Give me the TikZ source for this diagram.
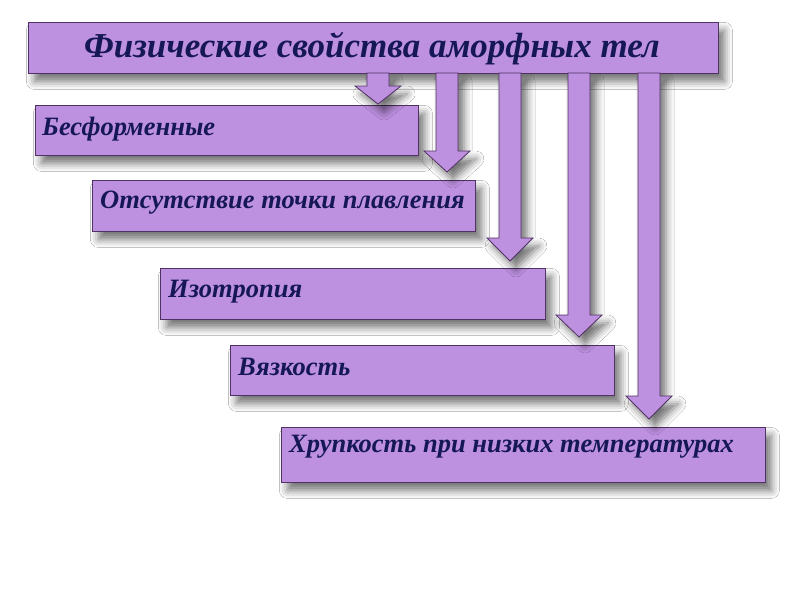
\documentclass[tikz,border=0pt]{standalone}
\usepackage{fontspec}
\setmainfont{Liberation Serif}
\usetikzlibrary{shadows.blur}
\definecolor{boxfill}{RGB}{189,144,224}
\definecolor{boxline}{RGB}{80,50,100}
\definecolor{txt}{RGB}{22,24,85}
\tikzset{
  shad/.style={blur shadow={shadow xshift=6pt,shadow yshift=-8pt,shadow blur radius=8pt,shadow opacity=55}},
  pbox/.style={draw=boxline,line width=0.8pt,fill=boxfill,shad,rectangle,inner sep=0pt},
  ptext/.style={anchor=west,text=txt,font=\fontsize{26.5}{30}\selectfont\bfseries\itshape,inner sep=0pt},
  parrow/.style={draw=boxline,line width=0.8pt,fill=boxfill,shad,line join=miter},
}
\newcommand\fatarrow[4]{% center x, top y, head base y, tip y
  \path[parrow] (#1-11,#2) -- (#1+11,#2) -- (#1+11,#3) -- (#1+23,#3) -- (#1,#4) -- (#1-23,#3) -- (#1-11,#3) -- cycle;}
\begin{document}
\begin{tikzpicture}[x=1pt,y=-1pt]
\useasboundingbox (0,0) rectangle (800,600);
\fill[white] (0,0) rectangle (800,600);
% boxes
\node[pbox,minimum width=690pt,minimum height=51pt,anchor=north west] (title) at (28,22) {};
\node[pbox,minimum width=383pt,minimum height=50pt,anchor=north west] (b1) at (35,105) {};
\node[pbox,minimum width=383pt,minimum height=51pt,anchor=north west] (b2) at (92,180) {};
\node[pbox,minimum width=385pt,minimum height=51pt,anchor=north west] (b3) at (160,268) {};
\node[pbox,minimum width=384pt,minimum height=50pt,anchor=north west] (b4) at (230,345) {};
\node[pbox,minimum width=484pt,minimum height=55pt,anchor=north west] (b5) at (281,427) {};
% arrows
\fatarrow{378}{73}{86}{104}
\fatarrow{447}{73}{151}{172}
\fatarrow{510}{73}{238}{261}
\fatarrow{579}{73}{315}{337}
\fatarrow{649}{73}{396}{419}
% texts
\node[text=txt,font=\fontsize{35}{40}\selectfont\bfseries\itshape,inner sep=0pt] (tt) at (372,49) {Физические свойства аморфных тел};
\node[ptext] (t1) at (42,129) {Бесформенные};
\node[ptext] (t2) at (100,203) {Отсутствие точки плавления};
\node[ptext] (t3) at (168,292) {Изотропия};
\node[ptext] (t4) at (238,367) {Вязкость};
\node[ptext] (t5) at (289,447) {Хрупкость при низких температурах};
\end{tikzpicture}
\end{document}
